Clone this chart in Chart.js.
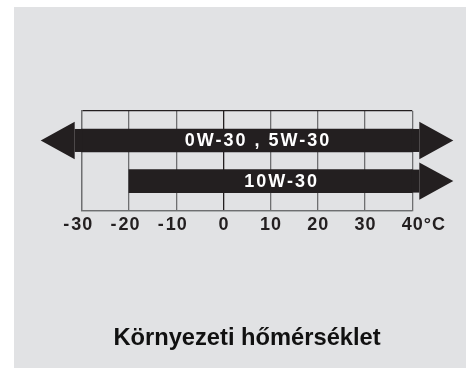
<!DOCTYPE html>
<html>
<head>
<meta charset="utf-8">
<script src="https://cdn.jsdelivr.net/npm/chart.js@4.4.1/dist/chart.umd.min.js"></script>
<style>
  html, body { margin: 0; padding: 0; background: #fff; }
  .panel { position: absolute; left: 14px; top: 7px; width: 452px; height: 361px; background: #e1e2e4; }
  canvas { display: block; }
</style>
</head>
<body>
<div class="panel"><canvas id="chartOil" width="452" height="361"></canvas></div>
<script>
// viscosity grades and the temperature range (°C) each one covers
const grades = ['0W-30 , 5W-30', '10W-30'];
const lowTemp = [-30, -20];
const highTemp = [40, 40];
// arrow heads where the range continues past the scale
const openLow = [true, false];
const openHigh = [true, true];
const tickLabels = [-30, -20, -10, 0, 10, 20, 30, 40];
const unit = '°C';
const axisTitle = 'Környezeti hőmérséklet';

const ink = '#231f20';
const gridGray = '#6e6f71';
const labelFont = 'bold 18px "Liberation Sans", Arial, sans-serif';

// arrow heads + text on the bars, and the temperature labels underneath
const arrowPlugin = {
  id: 'arrows',
  afterDatasetsDraw(chart) {
    const ctx = chart.ctx;
    const meta = chart.getDatasetMeta(0);
    const headLen = 34, headHalf = 18.7, neck = 7;
    ctx.save();
    ctx.fillStyle = ink;
    meta.data.forEach((bar, i) => {
      const p = bar.getProps(['x', 'y', 'base', 'height'], true);
      const half = p.height / 2;
      if (openHigh[i]) {
        ctx.fillRect(p.x - 1, p.y - half, neck + 1, p.height);
        ctx.beginPath();
        ctx.moveTo(p.x + neck, p.y - headHalf);
        ctx.lineTo(p.x + neck + headLen, p.y);
        ctx.lineTo(p.x + neck, p.y + headHalf);
        ctx.closePath();
        ctx.fill();
      }
      if (openLow[i]) {
        ctx.fillRect(p.base - neck, p.y - half, neck + 1, p.height);
        ctx.beginPath();
        ctx.moveTo(p.base - neck, p.y - headHalf);
        ctx.lineTo(p.base - neck - headLen, p.y);
        ctx.lineTo(p.base - neck, p.y + headHalf);
        ctx.closePath();
        ctx.fill();
      }
    });
    // grade names in white on the arrows
    ctx.fillStyle = '#ffffff';
    ctx.font = labelFont;
    ctx.letterSpacing = '2px';
    ctx.textAlign = 'center';
    ctx.textBaseline = 'middle';
    meta.data.forEach((bar, i) => {
      const p = bar.getProps(['x', 'y', 'base'], true);
      ctx.fillText(grades[i], (p.x + p.base) / 2 + 11, p.y + 1);
    });
    // temperature labels, digits centred on the grid line
    const xs = chart.scales.x;
    const ty = chart.chartArea.bottom + 14;
    ctx.fillStyle = ink;
    ctx.letterSpacing = '1px';
    ctx.textAlign = 'left';
    tickLabels.forEach(v => {
      const px = xs.getPixelForValue(v);
      const digits = String(Math.abs(v));
      const w = ctx.measureText(digits).width - 1;
      ctx.fillText(digits, px - w / 2, ty);
      if (v < 0) {
        ctx.textAlign = 'right';
        ctx.fillText('-', px - w / 2 - 1, ty);
        ctx.textAlign = 'left';
      }
      if (v === tickLabels[tickLabels.length - 1]) {
        ctx.fillText(unit, px + w / 2 + 1, ty);
      }
    });
    ctx.restore();
  }
};

const chart = new Chart(document.getElementById('chartOil'), {
  type: 'bar',
  data: {
    datasets: [{
      data: grades.map((g, i) => ({ x: [lowTemp[i], highTemp[i]], y: i + 1 })),
      backgroundColor: ink,
      borderWidth: 0,
      borderSkipped: false,
      barThickness: 23,
      clip: false
    }]
  },
  plugins: [arrowPlugin],
  options: {
    indexAxis: 'y',
    responsive: false,
    animation: false,
    layout: { padding: { left: 67.7, right: 53.7, top: 104, bottom: 0 } },
    plugins: {
      legend: { display: false },
      tooltip: { enabled: false },
      title: {
        display: true,
        position: 'bottom',
        text: axisTitle,
        color: '#111',
        font: { family: '"Liberation Sans", Arial, sans-serif', size: 23.7, weight: 'bold' },
        padding: { top: 114, bottom: 15 }
      }
    },
    scales: {
      x: {
        type: 'linear',
        min: tickLabels[0],
        max: tickLabels[tickLabels.length - 1],
        afterBuildTicks: s => { s.ticks = tickLabels.map(v => ({ value: v })); },
        ticks: { display: false },
        grid: {
          drawTicks: false,
          lineWidth: 1.3,
          color: c => (c.tick && c.tick.value === 0 ? ink : gridGray)
        },
        border: { display: true, color: gridGray, width: 1.3 }
      },
      y: {
        type: 'linear',
        reverse: true,
        offset: false,
        min: 0.275,
        max: 2.725,
        afterBuildTicks: s => { s.ticks = [{ value: 0.275 }, { value: 2.725 }]; },
        ticks: { display: false },
        grid: {
          offset: false,
          drawTicks: false,
          lineWidth: 1.3,
          color: c => (c.tick && c.tick.value < 1 ? ink : gridGray)
        },
        border: { display: true, color: gridGray, width: 1.3 }
      }
    }
  }
});
</script>
</body>
</html>
